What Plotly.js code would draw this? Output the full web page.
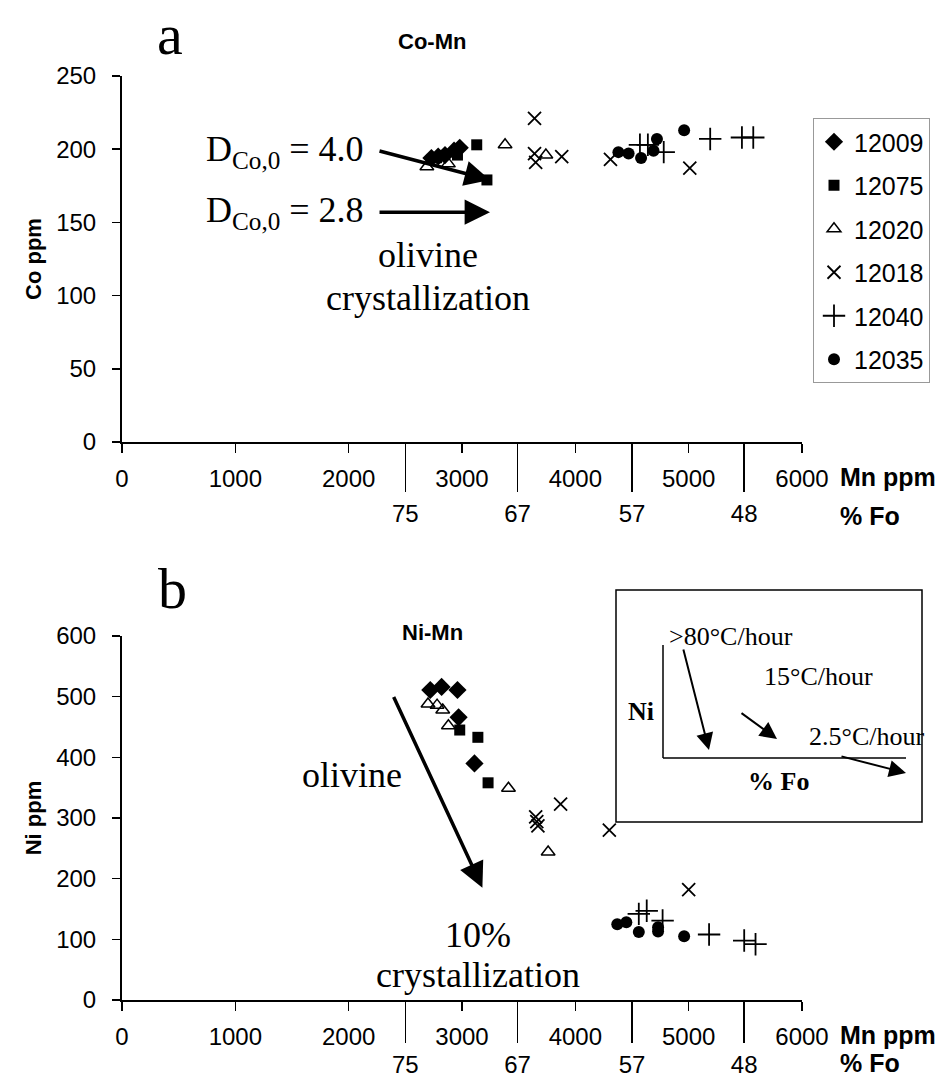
<!DOCTYPE html>
<html><head><meta charset="utf-8">
<script src="https://cdn.plot.ly/plotly-3.0.1.min.js"></script>
<style>html,body{margin:0;padding:0;background:#fff}</style>
</head><body>
<div id="chart" style="width:948px;height:1082px"></div>
<script>
// ---- data ----
const samples = ['12009','12075','12020','12018','12040','12035'];
const mnTicks = [0,1000,2000,3000,4000,5000,6000];
const foMn = [2500,3490,4500,5490];
const foLabels = ['75','67','57','48'];
const coTicks = [0,50,100,150,200,250];
const niTicks = [0,100,200,300,400,500,600];

// Panel a: Co vs Mn
const co_12009_mn = [2730,2790,2850,2930,2980];
const co_12009_co = [194,195,196,199,201];
const co_12075_mn = [2960,3130,3220];
const co_12075_co = [196,203,179];
const co_12020_mn = [2690,2760,2880,3380,3740];
const co_12020_co = [188,193,190,203,196];
const co_12018_mn = [3640,3640,3650,3880,4310,5010];
const co_12018_co = [221,197,191,195,193,187];
const co_12040_mn = [4570,4640,4780,5190,5470,5570];
const co_12040_co = [203,203,198,207,208,208];
const co_12035_mn = [4380,4470,4580,4690,4720,4960];
const co_12035_co = [198,197,194,199,207,213];

// Panel b: Ni vs Mn
const ni_12009_mn = [2720,2820,2960,2970,3110];
const ni_12009_ni = [511,516,511,466,390];
const ni_12075_mn = [2980,3140,3230];
const ni_12075_ni = [445,433,358];
const ni_12020_mn = [2700,2780,2830,2880,3410,3760];
const ni_12020_ni = [488,486,478,452,349,244];
const ni_12018_mn = [3650,3660,3670,3870,4300,5000];
const ni_12018_ni = [302,294,287,323,280,182];
const ni_12040_mn = [4560,4630,4770,5180,5490,5590];
const ni_12040_ni = [142,147,131,108,98,92];
const ni_12035_mn = [4370,4450,4560,4730,4730,4960];
const ni_12035_ni = [125,128,112,113,120,105];

const coData = {
  '12009':[co_12009_mn,co_12009_co],'12075':[co_12075_mn,co_12075_co],'12020':[co_12020_mn,co_12020_co],
  '12018':[co_12018_mn,co_12018_co],'12040':[co_12040_mn,co_12040_co],'12035':[co_12035_mn,co_12035_co]};
const niData = {
  '12009':[ni_12009_mn,ni_12009_ni],'12075':[ni_12075_mn,ni_12075_ni],'12020':[ni_12020_mn,ni_12020_ni],
  '12018':[ni_12018_mn,ni_12018_ni],'12040':[ni_12040_mn,ni_12040_ni],'12035':[ni_12035_mn,ni_12035_ni]};

// ---- styles ----
const markerStyle = {
  '12009':{symbol:'diamond',size:14,color:'#000'},
  '12075':{symbol:'square',size:11,color:'#000'},
  '12020':{symbol:'triangle-up-open',size:12,color:'#000',line:{color:'#000',width:1.5}},
  '12018':{symbol:'x-thin-open',size:13,color:'#000',line:{color:'#000',width:1.8}},
  '12040':{symbol:'cross-thin-open',size:16,color:'#000',line:{color:'#000',width:1.8}},
  '12035':{symbol:'circle',size:12,color:'#000'}
};

const traces = [];
samples.forEach(s => {
  traces.push({type:'scatter',mode:'markers',name:s,x:coData[s][0],y:coData[s][1],
    xaxis:'x',yaxis:'y',marker:markerStyle[s],legendgroup:s,showlegend:true,cliponaxis:false});
});
samples.forEach(s => {
  traces.push({type:'scatter',mode:'markers',name:s,x:niData[s][0],y:niData[s][1],
    xaxis:'x2',yaxis:'y2',marker:markerStyle[s],legendgroup:s,showlegend:false,cliponaxis:false});
});
// helper traces so the %Fo overlay axes exist
traces.push({type:'scatter',mode:'markers',x:foMn,y:foMn.map(()=>null),xaxis:'x3',yaxis:'y',showlegend:false,hoverinfo:'skip'});
traces.push({type:'scatter',mode:'markers',x:foMn,y:foMn.map(()=>null),xaxis:'x4',yaxis:'y2',showlegend:false,hoverinfo:'skip'});

// ---- layout geometry (pixel helpers for decorative items) ----
const W=948,H=1082,ML=122,MR=146,MT=76,MB=82;
const PW=W-ML-MR, PH=H-MT-MB;
const px = x => (x-ML)/PW;
const py = y => (H-MB-y)/PH;
const topDom = [py(442),1];
const botDom = [0,py(636)];

const SANS='Liberation Sans, Arial, sans-serif';
const SERIF='Liberation Serif, Times New Roman, serif';
const tickFont={family:SANS,size:24,color:'#000'};

function xAx(anchor){return {domain:[0,1],anchor:anchor,range:[0,6000],tickvals:mnTicks,ticks:'outside',ticklen:9,
  tickwidth:1.5,tickcolor:'#000',showline:true,linewidth:2,linecolor:'#000',showgrid:false,zeroline:false,
  tickfont:tickFont,ticklabelstandoff:5,fixedrange:true};}
function foAx(over,anchor,len){return {overlaying:over,anchor:anchor,range:[0,6000],tickvals:foMn,ticktext:foLabels,
  ticks:'outside',ticklen:len,tickwidth:1.5,tickcolor:'#000',showline:false,showgrid:false,zeroline:false,side:'bottom',
  tickfont:tickFont,ticklabelstandoff:1};}
function yAx(dom,anchor,range,tv,title){return {domain:dom,anchor:anchor,range:range,tickvals:tv,ticks:'outside',ticklen:8,
  tickwidth:1.5,tickcolor:'#000',showline:true,linewidth:2,linecolor:'#000',showgrid:false,zeroline:false,
  tickfont:tickFont,ticklabelstandoff:11,title:{text:'<b>'+title+'</b>',font:{family:SANS,size:22,color:'#000'},standoff:8}};}

const ann = [];
function txt(x,y,t,font,xa,ya){ann.push({xref:'paper',yref:'paper',x:px(x),y:py(y),text:t,showarrow:false,
  xanchor:xa||'center',yanchor:ya||'middle',font:font});}
const serif36={family:SERIF,size:36,color:'#000'};
const serif26={family:SERIF,size:26,color:'#000'};
const sansB={family:SANS,size:22,color:'#000'};
const sansB25={family:SANS,size:25,color:'#000'};

// panel letters & titles
txt(170,34,'a',{family:SERIF,size:58,color:'#000'});
txt(172,588,'b',{family:SERIF,size:58,color:'#000'});
txt(432,42,'<b>Co-Mn</b>',sansB);
txt(432,632,'<b>Ni-Mn</b>',sansB);
// axis side labels
txt(838,477,'<b>Mn ppm</b>',sansB25,'left');
txt(838,516,'<b>% Fo</b>',sansB25,'left');
txt(838,1035,'<b>Mn ppm</b>',sansB25,'left');
txt(838,1063,'<b>% Fo</b>',sansB25,'left');

// panel a text
txt(366,151,'D<sub>Co,0</sub> = 4.0',serif36,'right');
txt(366,212,'D<sub>Co,0</sub> = 2.8',serif36,'right');
txt(428,255,'olivine',serif36);
txt(428,298,'crystallization',serif36);
// arrows (data coords)
function arrowData(xr,yr,x0,y0,x1,y1,w){ann.push({xref:xr,yref:yr,axref:xr,ayref:yr,x:x1,y:y1,ax:x0,ay:y0,text:'',
  showarrow:true,arrowhead:2,arrowsize:1.45,arrowwidth:w,arrowcolor:'#000'});}
arrowData('x','y',2259,199,3247,179,3.5);
arrowData('x','y',2259,157,3247,157,3.5);
arrowData('x2','y2',2391,502,3180,185,3.5);
txt(352,775,'olivine',serif36);
txt(478,935,'10%',serif36);
txt(478,975,'crystallization',serif36);

// inset texts
txt(667,636,'&gt;80°C/hour',serif26,'left');
txt(818,676,'15°C/hour',serif26);
txt(866,736,'2.5°C/hour',serif26);
txt(641,711,'<b>Ni</b>',serif26);
txt(778,781,'<b>% Fo</b>',serif26);
function arrowPx(x0,y0,x1,y1){ann.push({xref:'paper',yref:'paper',axref:'pixel',ayref:'pixel',x:px(x1),y:py(y1),
  ax:x0-x1,ay:y0-y1,text:'',showarrow:true,arrowhead:2,arrowsize:1.7,arrowwidth:2,arrowcolor:'#000'});}
arrowPx(683,648,709,750);
arrowPx(740,712,777,739);
arrowPx(840,756,906,773);

const shapes = [
  {type:'rect',xref:'paper',yref:'paper',x0:px(616),x1:px(922),y0:py(822),y1:py(590),line:{color:'#000',width:1.5}},
  {type:'line',xref:'paper',yref:'paper',x0:px(663),x1:px(663),y0:py(645),y1:py(758),line:{color:'#000',width:1.5}},
  {type:'line',xref:'paper',yref:'paper',x0:px(663),x1:px(906),y0:py(758),y1:py(758),line:{color:'#000',width:1.5}}
];

const layout = {
  width:W,height:H,margin:{l:ML,r:MR,t:MT,b:MB},paper_bgcolor:'#fff',plot_bgcolor:'#fff',
  font:{family:SANS,color:'#000'},hovermode:false,
  xaxis:xAx('y'), yaxis:yAx(topDom,'x',[0,250],coTicks,'Co ppm'),
  xaxis2:xAx('y2'), yaxis2:yAx(botDom,'x2',[0,600],niTicks,'Ni ppm'),
  xaxis3:foAx('x','y',49), xaxis4:foAx('x2','y2',42),
  showlegend:true,
  legend:{x:px(813),y:py(118),xanchor:'left',yanchor:'top',bordercolor:'#999',borderwidth:1,
    font:{family:SANS,size:25,color:'#000'},traceorder:'grouped',tracegroupgap:8,itemwidth:30,bgcolor:'#fff'},
  annotations:ann, shapes:shapes
};
Plotly.newPlot('chart',traces,layout,{staticPlot:true,displayModeBar:false});
</script>
</body></html>
